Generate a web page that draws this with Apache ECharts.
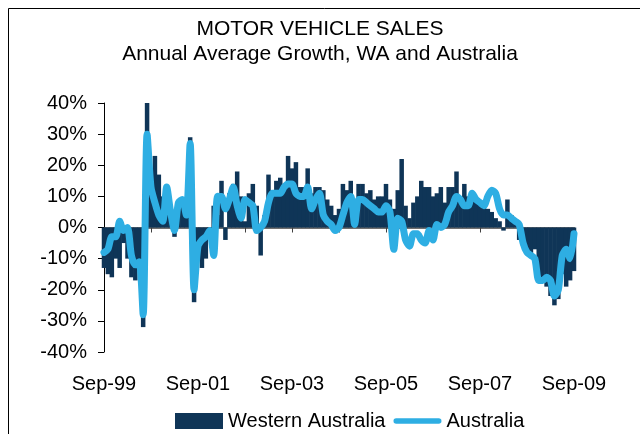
<!DOCTYPE html>
<html>
<head>
<meta charset="UTF-8">
<title>Motor vehicle sales</title>
<script src="https://cdn.jsdelivr.net/npm/echarts@6/dist/echarts.min.js"></script>
<style>
  html, body { margin: 0; padding: 0; background: #fff; }
  #chart { width: 640px; height: 434px; }
</style>
</head>
<body>
<div id="chart"></div>
<script>
// months Sep-99 .. Sep-09
var monthNames = ['Jan','Feb','Mar','Apr','May','Jun','Jul','Aug','Sep','Oct','Nov','Dec'];
var months = [];
for (var k = 0; k < 121; k++) {
  var m = (8 + k) % 12, y = 1999 + Math.floor((8 + k) / 12);
  months.push(monthNames[m] + '-' + String(y).slice(2));
}

// annual average growth, %
var westernAustralia = [
  -13,
  -15, -16, -10, -13, -5, -10, -16, -17, -11, -32,
  40, 18, 23, 17, 10, 12, 6, -3, 8, 9,
  5, 29, -24, -10, -13, -10, -3, 7, 4, 15,
  -4, 11, 14, 18, 10, 2, 11, 14, 7, -9,
  4, 17, 12, 15, 16, 14, 23, 19, 21, 13,
  13, 19, 11, 13, 13, 12, 9, 7, 4, 6,
  14, 12, 15, 0, 14, 14, 11, 12, 9, 10,
  10, 14, 9, 6, 12, 22, 7, 3, 8, 10,
  15, 13, 13, 10, 11, 13, 8, 13, 13, 18,
  10, 14, 10, 11, 9, 8, 7, 6, 5, 3,
  2, -1, 9, 4, 2, -4, -6, -8, -9, -7,
  -16, -17, -19, -22, -25, -23, -15, -19, -17, -14
];
var australia = [
  -8,
  -7, -3, -3, 2, -1, 0, -9, -12, -11, -28,
  30, 13, 8, 4, 2, 13, 5, -1, 8, 9,
  4, 27, -20, -6, -4, -3, -1, -9, 10, 10,
  6, 9, 13, 7, 3, 9, 8, 7, -1, 0,
  2, 8, 11, 11, 11, 13, 14, 14, 11, 10,
  10, 13, 6, 9, 11, 4, 2, 1, -1, 0,
  4, 8, 10, 1, 9, 9, 8, 7, 6, 5,
  5, 7, 5, -7, 3, 2, -4, -6, -2, -2,
  -4, -5, -1, -4, 1, 0, 1, 5, 7, 10,
  9, 7, 7, 11, 9, 8, 7, 10, 12, 11,
  6, 4, 4, 3, 2, 1, -5, -8, -9, -10,
  -17, -17, -16, -17, -22, -20, -9, -7, -10, -2
];

var font = 'Liberation Sans, Arial, sans-serif';
var navy = '#0f3557', sky = '#2eaee3';
var chart = echarts.init(document.getElementById('chart'));

var option = {
  animation: false,
  textStyle: { fontFamily: font },
  title: {
    text: 'MOTOR VEHICLE SALES',
    subtext: 'Annual Average Growth, WA and Australia',
    left: 'center',
    top: 14,
    itemGap: 4,
    textStyle: { fontFamily: font, fontSize: 21, fontWeight: 'normal', color: '#000' },
    subtextStyle: { fontFamily: font, fontSize: 21, color: '#000' }
  },
  legend: {
    left: 170,
    top: 406,
    itemWidth: 48,
    itemHeight: 16,
    itemGap: 8,
    textStyle: { fontFamily: font, fontSize: 20, color: '#000' },
    data: [
      { name: 'Western Australia', icon: 'rect' },
      { name: 'Australia', icon: 'path://M3,0 H49 A3,3 0 0 1 49,6 H3 A3,3 0 0 1 3,0 Z' }
    ]
  },
  graphic: [{
    type: 'rect',
    shape: { x: 8.5, y: 8.5, width: 700, height: 500 },
    style: { fill: null, stroke: '#000', lineWidth: 1 },
    silent: true
  }],
  grid: { left: 104, right: 66, top: 103, bottom: 82 },
  xAxis: [{
    // labels only, kept at the bottom
    type: 'category',
    data: months,
    boundaryGap: false,
    axisLine: { show: false, onZero: false },
    axisTick: { show: false },
    axisLabel: { interval: 23, margin: 22, fontSize: 20, color: '#000' },
    splitLine: { show: false }
  }, {
    // axis line and yearly ticks on the zero line
    type: 'category',
    data: months,
    position: 'bottom',
    boundaryGap: false,
    axisLine: { show: true, onZero: true, lineStyle: { color: '#404040', width: 1.5 } },
    axisTick: { show: true, interval: 11, length: 5, lineStyle: { color: '#404040' } },
    axisLabel: { show: false },
    splitLine: { show: false }
  }],
  yAxis: {
    type: 'value',
    min: -40,
    max: 40,
    interval: 10,
    axisLine: { show: true, lineStyle: { color: '#000', width: 1 } },
    axisTick: { show: true, length: 6, lineStyle: { color: '#000' } },
    axisLabel: { formatter: '{value}%', fontSize: 20, color: '#000', margin: 17 },
    splitLine: { show: false }
  },
  series: [{
    name: 'Western Australia',
    type: 'bar',
    xAxisIndex: 0,
    data: westernAustralia,
    barWidth: '115%',
    itemStyle: { color: navy }
  }, {
    name: 'Australia',
    type: 'line',
    xAxisIndex: 0,
    data: australia,
    symbol: 'none',
    smooth: 0.25,
    itemStyle: { color: sky },
    lineStyle: { color: sky, width: 7, cap: 'round', join: 'round' }
  }]
};

chart.setOption(option);
</script>
</body>
</html>
